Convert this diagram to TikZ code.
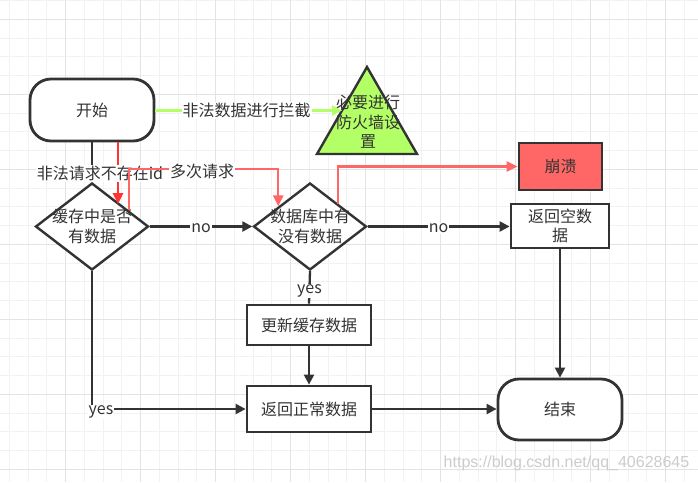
\documentclass[tikz,border=0pt]{standalone}
\usepackage{fontspec}
\setmainfont{Noto Sans CJK SC}
\newfontfamily\wmfont{Liberation Sans}
\usetikzlibrary{arrows.meta,calc,shapes.geometric}
\definecolor{ink}{HTML}{333333}
\definecolor{gminor}{HTML}{F2F2F2}
\definecolor{gmajor}{HTML}{E3E3E3}
\definecolor{lgreen}{HTML}{B3FF66}
\definecolor{redA}{HTML}{FF3333}
\definecolor{redB}{HTML}{FF6666}
\tikzset{
  txt/.style={font=\fontsize{16}{19.5}\selectfont, text=ink, align=center},
  boxnode/.style={draw=ink, line width=2.8pt, fill=white, inner sep=0pt},
  termnode/.style={boxnode, rounded corners=21pt},
  decnode/.style={diamond, draw=ink, line width=2.4pt, fill=white, inner sep=0pt, aspect=1.3},
  conn/.style={draw=ink, line width=2.3pt, -{Triangle[length=10pt,width=10pt]}},
  connplain/.style={draw=ink, line width=2.3pt},
  redone/.style={draw=redA, line width=2.3pt, -{Triangle[length=11pt,width=10pt]}},
  redtwo/.style={draw=redB, line width=2.3pt, -{Triangle[length=11pt,width=10pt]}},
  greenarrow/.style={draw=lgreen, line width=2.3pt, -{Triangle[length=10pt,width=10pt]}},
  lbl/.style={txt, fill=white, inner sep=1pt},
}
\begin{document}
\begin{tikzpicture}[x=1pt,y=-1pt]
\useasboundingbox (0,0) rectangle (698,482);
\fill[white] (0,0) rectangle (698,482);
% grid
\foreach \i in {0,...,37} {\draw[gminor, line width=1pt] ({9.3+18.75*\i},0) -- ({9.3+18.75*\i},482);}
\foreach \j in {0,...,25} {\draw[gminor, line width=1pt] (0,{0.55+18.75*\j}) -- (698,{0.55+18.75*\j});}
\foreach \i in {0,...,8} {\draw[gmajor, line width=1pt] ({65.55+75*\i},0) -- ({65.55+75*\i},482);}
\foreach \j in {0,...,6} {\draw[gmajor, line width=1pt] (0,{19.3+75*\j}) -- (698,{19.3+75*\j});}

% nodes
\node[termnode, minimum width=124pt, minimum height=62pt] (start) at (92,110) {};
\node[txt] at (start) {开始};

\draw[ink, line width=2.4pt, fill=lgreen, line join=miter] (367,67) -- (417,154) -- (317,154) -- cycle;
\coordinate (triL) at (342,110.5);
\node[txt] (tri) at (368,122) {必要进行\\防火墙设\\置};

\node[decnode, minimum width=113pt, minimum height=87pt] (d1) at (92,226.5) {};
\node[txt] at (d1) {缓存中是否\\有数据};
\node[decnode, minimum width=113pt, minimum height=87pt] (d2) at (310,226.5) {};
\node[txt] at (d2) {数据库中有\\没有数据};

\node[boxnode, fill=redB, minimum width=83pt, minimum height=47pt] (crash) at (560.5,166.5) {};
\node[txt] at (crash) {崩溃};
\node[boxnode, minimum width=98pt, minimum height=44pt] (empty) at (560,226) {};
\node[txt] at (empty) {返回空数\\据};
\node[boxnode, minimum width=124pt, minimum height=40pt] (upd) at (309,325) {};
\node[txt] at (upd) {更新缓存数据};
\node[boxnode, minimum width=124pt, minimum height=46pt] (ok) at (309,409) {};
\node[txt] at (ok) {返回正常数据};
\node[termnode, minimum width=124pt, minimum height=61pt] (end) at (560,409.5) {};
\node[txt] at (end) {结束};

% connectors
\draw[greenarrow] (start.east |- 0,110.5) -- node[lbl, xshift=-2pt] {非法数据进行拦截} (triL);

\draw[connplain] (start.south) -- (d1.north);
\draw[redone] ([xshift=26pt]start.south) -- node[lbl, xshift=-18pt] {非法请求不存在id} ([xshift=26pt]start.south |- d1.north east);

\coordinate (r2a) at ($(d1.north)!0.64!(d1.east)$);
\coordinate (r2b) at ($(d2.north)!0.55!(d2.west)$);
\draw[redtwo] (r2a) -- (r2a |- 0,169.3) -- (r2b |- 0,169.3) -- (r2b);
\node[lbl] (lblmulti) at (202,171.5) {多次请求};

\coordinate (r3a) at ($(d2.north)!0.49!(d2.east)$);
\draw[redtwo] (r3a) |- (crash.west);

\draw[conn] (d1.east) -- node[lbl, yshift=-2pt] {no} (d2.west);
\draw[conn] (d2.east) -- node[lbl, yshift=-2pt] {no} (empty.west |- d2.east);
\draw[connplain] (d2.south) -- node[lbl, pos=0.55, yshift=-2pt] {yes} (upd.north);
\draw[conn] (upd.south) -- (ok.north);
\draw[conn] (d1.south) |- (ok.west);
\node[lbl] (lblyes) at (101,412) {yes};
\draw[conn] (ok.east) -- (end.west |- ok.east);
\draw[conn] (empty.south) -- (end.north);

\node[font=\wmfont\fontsize{16}{16}\selectfont, text=black!20] (wm) at (566.5,463) {https://blog.csdn.net/qq\_40628645};
\end{tikzpicture}
\end{document}
